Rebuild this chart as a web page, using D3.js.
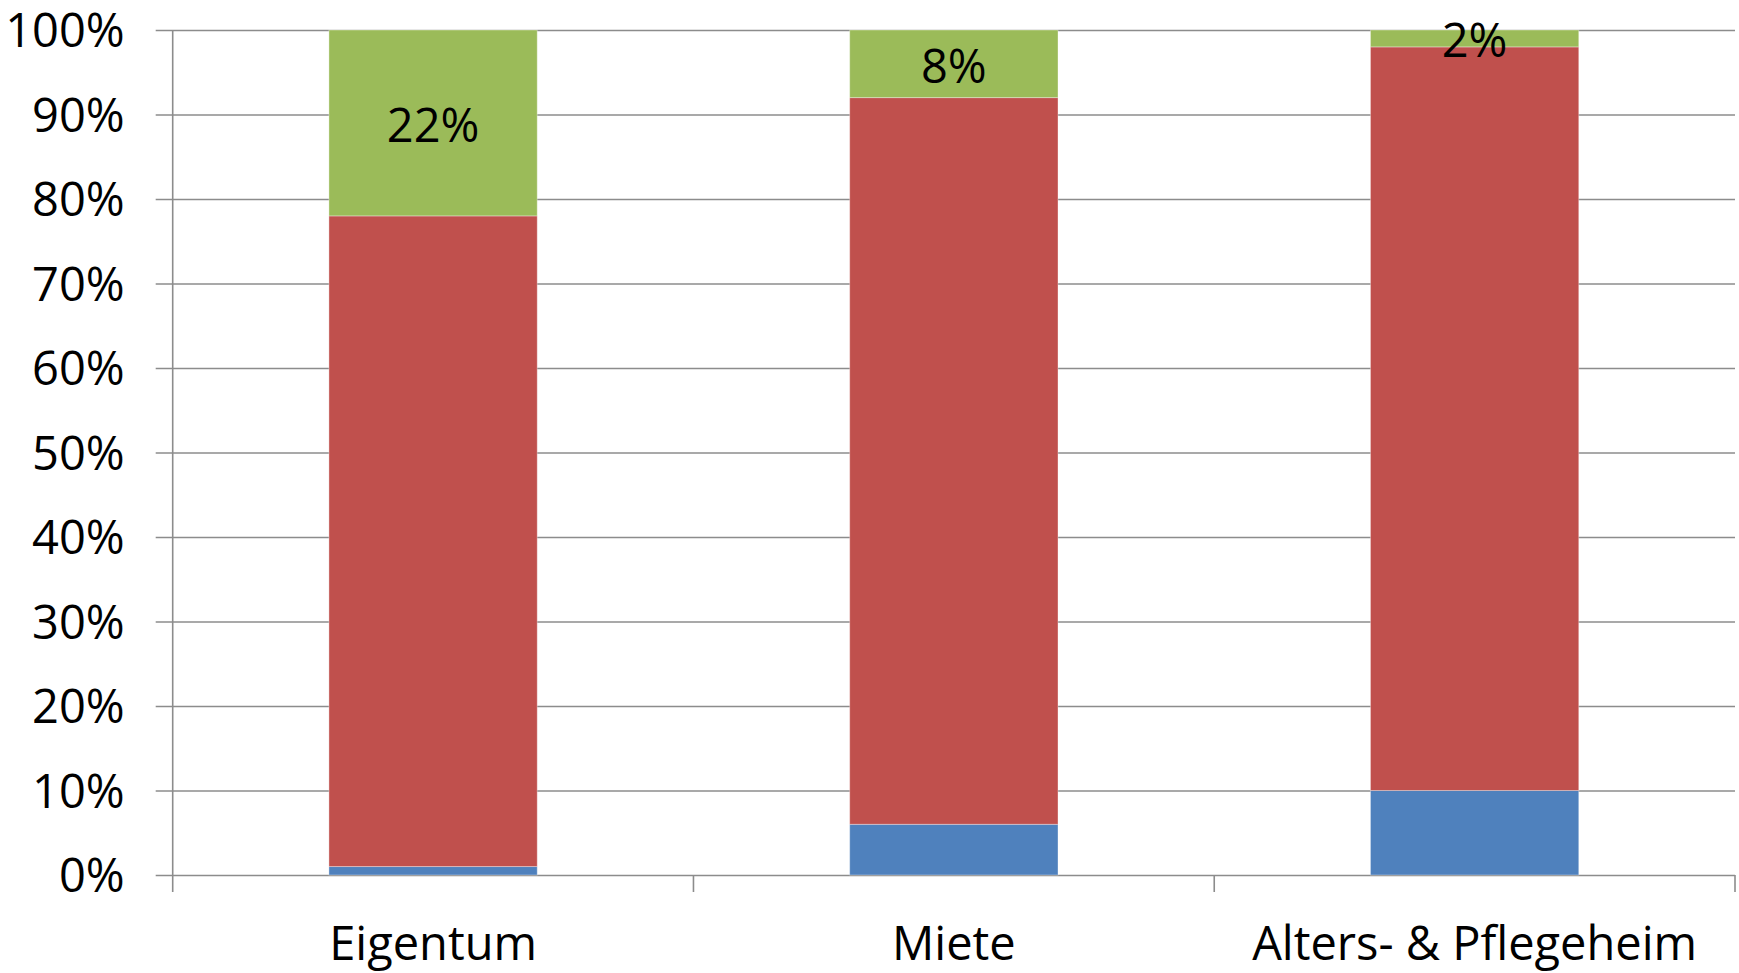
<!DOCTYPE html>
<html>
<head>
<meta charset="utf-8">
<script src="https://cdn.jsdelivr.net/npm/d3@7"></script>
<style>
  html, body { margin: 0; padding: 0; background: #fff; }
  svg { display: block; }
  text { font-family: "Open Sans", "Noto Sans", sans-serif; fill: #000; }
</style>
</head>
<body>
<svg id="chart" width="1739" height="973"></svg>
<script>
// Housing situation, stacked shares per category (fractions of 100%)
const categories = ["Eigentum", "Miete", "Alters- & Pflegeheim"];
const seriesKeys = ["blue", "red", "green"];
const blueValues  = [0.01, 0.06, 0.10];
const redValues   = [0.77, 0.86, 0.88];
const greenValues = [0.22, 0.08, 0.02];
const greenLabels = ["22%", "8%", "2%"];
const yTicks = [0, 0.1, 0.2, 0.3, 0.4, 0.5, 0.6, 0.7, 0.8, 0.9, 1.0];

const colors = { blue: "#4F81BD", red: "#C0504D", green: "#9BBB59" };

const rows = categories.map((c, i) => ({
  category: c, blue: blueValues[i], red: redValues[i], green: greenValues[i], label: greenLabels[i]
}));

const svg = d3.select("#chart");
const plotLeft = 172.7, plotRight = 1735, plotTop = 30, plotBottom = 875;
const gridColor = "#8C8C8C";
const fontSize = 47;

const x = d3.scaleBand().domain(categories).range([plotLeft, plotRight])
  .paddingInner(0.6).paddingOuter(0.3);
const y = d3.scaleLinear().domain([0, 1]).range([plotBottom, plotTop]);

// horizontal gridlines (including the short outward tick on the left)
const grid = svg.append("g").attr("transform", `translate(${plotRight},0)`)
  .call(d3.axisLeft(y).tickValues(yTicks).tickSize(plotRight - plotLeft + 17).tickFormat(""));
grid.select(".domain").remove();
grid.selectAll("line").attr("stroke", gridColor).attr("stroke-width", 1.6);

// stacked bars
const stack = d3.stack().keys(seriesKeys)(rows);
svg.append("g").selectAll("g").data(stack).join("g")
  .attr("fill", d => colors[d.key])
  .selectAll("rect").data(d => d).join("rect")
  .attr("x", d => x(d.data.category))
  .attr("width", x.bandwidth())
  .attr("y", d => y(d[1]))
  .attr("height", d => y(d[0]) - y(d[1]))
  .attr("stroke", "#ffffff")
  .attr("stroke-opacity", 0.35)
  .attr("stroke-width", 1);

// value axis labels
const yAxis = svg.append("g").attr("transform", `translate(${plotLeft},0)`)
  .call(d3.axisLeft(y).tickValues(yTicks).tickSize(17).tickPadding(31).tickFormat(d3.format(".0%")));
yAxis.select(".domain").remove();
yAxis.selectAll("line").remove();
yAxis.selectAll("text").attr("font-size", fontSize).attr("font-family", "Open Sans").attr("fill", "#000")
  .attr("dy", "0.36em");

// vertical axis line
svg.append("line")
  .attr("x1", plotLeft).attr("x2", plotLeft).attr("y1", y(1)).attr("y2", plotBottom + 17)
  .attr("stroke", gridColor).attr("stroke-width", 1.6);

// category tick marks at the band boundaries
const boundaries = categories.map(c => x(c) - x.step() * x.paddingOuter() + x.step());
svg.append("g").selectAll("line").data(boundaries).join("line")
  .attr("x1", d => d).attr("x2", d => d)
  .attr("y1", plotBottom).attr("y2", plotBottom + 17)
  .attr("stroke", gridColor).attr("stroke-width", 1.6);

const xAxis = svg.append("g").attr("transform", `translate(0,${plotBottom})`)
  .call(d3.axisBottom(x).tickSize(0).tickPadding(0));
xAxis.select(".domain").remove();
xAxis.selectAll("text")
  .attr("font-size", fontSize).attr("font-family", "Open Sans").attr("fill", "#000")
  .attr("dy", null).attr("y", 85);

// data labels on the top segment
const topSeries = stack[2];
svg.append("g").selectAll("text").data(topSeries).join("text")
  .attr("x", d => x(d.data.category) + x.bandwidth() / 2)
  .attr("y", d => (y(d[0]) + y(d[1])) / 2)
  .attr("dy", "0.4em")
  .attr("text-anchor", "middle")
  .attr("font-size", fontSize)
  .text(d => d.data.label);
</script>
</body>
</html>
